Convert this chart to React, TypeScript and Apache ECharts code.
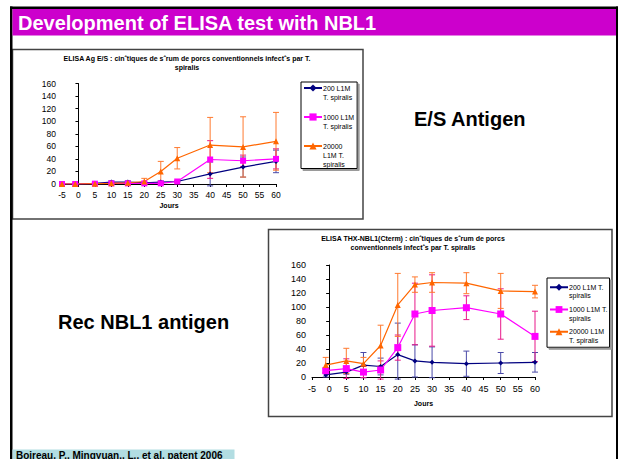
import React, { useEffect, useRef } from "react";
import * as echarts from "echarts";

// ---------- data ----------
const dayTicks = [-5, 0, 5, 10, 15, 20, 25, 30, 35, 40, 45, 50, 55, 60];
const yTicks = [0, 20, 40, 60, 80, 100, 120, 140, 160];

const seriesNames = ["200 L1M T. spiralis", "1000 L1M T. spiralis", "20000 L1M T. spiralis"];

// Chart 1: E/S antigen
const days1 = [-5, -1, 5, 10, 15, 20, 25, 30, 40, 50, 60];
const es200 = [0, 0, 1, 3, 3, 2, 3, 4, 16, 27, 36];
const es200Err = [1, 1, 1, 2, 2, 1, 2, 1, 19, 16, 18];
const es1000 = [0, 0, 0.5, 1, 1, 1, 1, 4, 39, 37, 40];
const es1000Err = [1, 1, 1, 1, 1, 1, 1, 1, 30, 9, 16];
const es20000 = [0, 0, 0.5, 1, 2, 4, 20, 41, 62, 59, 68];
const es20000Err = [1, 1, 1, 1, 1, 5, 16, 17, 44, 48, 46];

// Chart 2: recombinant NBL1
const days2 = [-1, 5, 10, 15, 20, 25, 30, 40, 50, 60];
const nbl200 = [3, 7, 17, 15, 32, 23, 21, 19, 20, 21];
const nbl200Err = [3, 3, 18, 12, 45, 23, 22, 18, 15, 14];
const nbl1000 = [9, 12, 7, 10, 42, 90, 95, 99, 90, 58];
const nbl1000Err = [3, 14, 8, 13, 18, 44, 51, 17, 36, 36];
const nbl20000 = [17, 23, 19, 45, 103, 132, 135, 134, 123, 122];
const nbl20000Err = [11, 18, 9, 29, 45, 11, 14, 15, 25, 9];

const legend1Labels: Record<string, string> = {
  "200 L1M T. spiralis": "200 L1M\nT. spiralis",
  "1000 L1M T. spiralis": "1000 L1M\nT. spiralis",
  "20000 L1M T. spiralis": "20000\nL1M T.\nspiralis",
};
const legend2Labels: Record<string, string> = {
  "200 L1M T. spiralis": "200 L1M T.\nspiralis",
  "1000 L1M T. spiralis": "1000 L1M T.\nspiralis",
  "20000 L1M T. spiralis": "20000 L1M\nT. spiralis",
};

const title1 = "ELISA Ag E/S : cinˆtiques de sˆrum de porcs conventionnels infectˆs par T.\nspiralis";
const title2 = "ELISA THX-NBL1(Cterm) : cinˆtiques de sˆrum de porcs\nconventionnels infectˆs par T. spiralis";

// ---------- styling ----------
const FONT = "Arial, 'Liberation Sans', sans-serif";
const colors = ["#000080", "#FF00FF", "#FF6600"];
const errColors = ["#4a4aa8", "#e8198a", "#ff7a30"];
const symbols = ["diamond", "rect", "triangle"];

function lineSeries(i: number, xs: number[], ys: number[], axis: number, symSize: number[]) {
  return {
    type: "line",
    name: seriesNames[i],
    xAxisIndex: axis,
    yAxisIndex: axis,
    data: xs.map((x, k) => [x, ys[k]]),
    symbol: symbols[i],
    symbolSize: symSize[i],
    showAllSymbol: true,
    lineStyle: { color: colors[i], width: 1.2 },
    itemStyle: { color: colors[i] },
    z: 3,
  };
}

function errSeries(i: number, xs: number[], ys: number[], es: number[], axis: number) {
  const color = errColors[i];
  return {
    type: "custom",
    xAxisIndex: axis,
    yAxisIndex: axis,
    silent: true,
    z: 2,
    data: xs.map((x, k) => [x, ys[k] - es[k], ys[k] + es[k]]),
    encode: { x: 0, y: [1, 2] },
    renderItem: (_p: any, api: any) => {
      const x = api.value(0);
      const lo = api.coord([x, Math.max(api.value(1), -3)]);
      const hi = api.coord([x, api.value(2)]);
      const w = 3;
      const st = { stroke: color, lineWidth: 1 };
      return {
        type: "group",
        children: [
          { type: "line", shape: { x1: lo[0], y1: lo[1], x2: hi[0], y2: hi[1] }, style: st },
          { type: "line", shape: { x1: lo[0] - w, y1: lo[1], x2: lo[0] + w, y2: lo[1] }, style: st },
          { type: "line", shape: { x1: hi[0] - w, y1: hi[1], x2: hi[0] + w, y2: hi[1] }, style: st },
        ],
      };
    },
  };
}

function xAxisCfg(grid: number, fs: number, margin: number, nameGap: number) {
  return {
    type: "value",
    gridIndex: grid,
    min: dayTicks[0],
    max: dayTicks[dayTicks.length - 1],
    interval: 5,
    name: "Jours",
    nameLocation: "middle",
    nameGap,
    nameTextStyle: { fontSize: 7, fontWeight: "bold", fontFamily: FONT, color: "#000" },
    axisLine: { show: true, onZero: false, lineStyle: { color: "#000", width: 1 } },
    axisTick: { show: true, length: 3, lineStyle: { color: "#000" } },
    axisLabel: { fontSize: fs, fontFamily: FONT, color: "#000", margin },
    splitLine: { show: false },
  };
}

function yAxisCfg(grid: number, fs: number) {
  return {
    type: "value",
    gridIndex: grid,
    min: yTicks[0],
    max: yTicks[yTicks.length - 1],
    interval: 20,
    axisLine: { show: true, lineStyle: { color: "#000", width: 1 } },
    axisTick: { show: true, length: 3, lineStyle: { color: "#000" } },
    axisLabel: { fontSize: fs, fontFamily: FONT, color: "#000", margin: 6 },
    splitLine: { show: false },
  };
}

function legendCfg(
  labels: Record<string, string>,
  left: number,
  top: number,
  lh: number,
  gap: number,
  padding: number[]
) {
  return {
    orient: "vertical",
    left,
    top,
    padding,
    itemGap: gap,
    itemWidth: 18,
    itemHeight: lh,
    backgroundColor: "#fff",
    borderColor: "#000",
    borderWidth: 1,
    shadowColor: "#9a9a9a",
    shadowOffsetX: 2,
    shadowOffsetY: 2,
    shadowBlur: 0,
    selectedMode: false,
    data: seriesNames.map((n) => {
      const lines = labels[n].split("\n").length;
      return { name: n, textStyle: { padding: [0, 0, -(lines - 1) * lh, -4] } };
    }),
    formatter: (n: string) => labels[n],
    textStyle: {
      fontSize: 7,
      lineHeight: lh,
      fontFamily: FONT,
      color: "#000",
      rich: { r: { fontSize: 7, lineHeight: lh, fontFamily: FONT, color: "#000" } },
    },
  };
}

export default function App() {
  const ref = useRef<HTMLDivElement>(null);
  useEffect(() => {
    if (!ref.current) return;
    const chart = echarts.init(ref.current, undefined, { renderer: "svg" });
    const option: any = {
      animation: false,
      backgroundColor: "#fff",
      textStyle: { fontFamily: FONT },
      grid: [
        { left: 62, top: 83.5, width: 214, height: 100.5, containLabel: false },
        { left: 312, top: 265, width: 223, height: 112, containLabel: false },
      ],
      xAxis: [xAxisCfg(0, 8.5, 6, 18), xAxisCfg(1, 9, 7, 23)],
      yAxis: [yAxisCfg(0, 8.5), yAxisCfg(1, 9)],
      legend: [
        legendCfg(legend1Labels, 301, 82, 9, 12, [1.5, 3, 1, 2]),
        legendCfg(legend2Labels, 547, 278, 8.5, 6, [5, 2, 3.5, 2]),
      ],
      series: [
        lineSeries(0, days1, es200, 0, [5, 6, 6]),
        lineSeries(1, days1, es1000, 0, [5, 6, 6]),
        lineSeries(2, days1, es20000, 0, [5, 6, 6]),
        lineSeries(0, days2, nbl200, 1, [5, 7, 6]),
        lineSeries(1, days2, nbl1000, 1, [5, 7, 6]),
        lineSeries(2, days2, nbl20000, 1, [5, 7, 6]),
        errSeries(0, days1, es200, es200Err, 0),
        errSeries(1, days1, es1000, es1000Err, 0),
        errSeries(2, days1, es20000, es20000Err, 0),
        errSeries(0, days2, nbl200, nbl200Err, 1),
        errSeries(1, days2, nbl1000, nbl1000Err, 1),
        errSeries(2, days2, nbl20000, nbl20000Err, 1),
      ],
      graphic: [
        // slide frame
        { type: "rect", shape: { x: 10, y: 6.5, width: 608, height: 2.5 }, style: { fill: "#000" }, silent: true },
        { type: "rect", shape: { x: 10, y: 6.5, width: 2.5, height: 460 }, style: { fill: "#000" }, silent: true },
        { type: "rect", shape: { x: 616, y: 6.5, width: 2, height: 460 }, style: { fill: "#000" }, silent: true },
        // title bar
        { type: "rect", shape: { x: 12.5, y: 9, width: 603.5, height: 26.5 }, style: { fill: "#CC00CC" }, silent: true },
        {
          type: "text",
          x: 18,
          y: 22.5,
          style: {
            text: "Development of ELISA test with NBL1",
            fill: "#fff",
            fontSize: 20,
            fontWeight: "bold",
            fontFamily: FONT,
            align: "left",
            verticalAlign: "middle",
          },
          silent: true,
        },
        // chart frames
        { type: "rect", shape: { x: 12.5, y: 49.5, width: 350.5, height: 169.5 }, style: { fill: "none", stroke: "#444", lineWidth: 1.5 }, silent: true, z: -1 },
        { type: "rect", shape: { x: 268.5, y: 229.5, width: 343.5, height: 187 }, style: { fill: "none", stroke: "#444", lineWidth: 1.5 }, silent: true, z: -1 },
        // chart titles
        {
          type: "text",
          x: 187,
          y: 63,
          style: { text: title1, fill: "#000", fontSize: 7, fontWeight: "bold", fontFamily: FONT, lineHeight: 8.5, align: "center", verticalAlign: "middle" },
          silent: true,
        },
        {
          type: "text",
          x: 413,
          y: 243,
          style: { text: title2, fill: "#000", fontSize: 7, fontWeight: "bold", fontFamily: FONT, lineHeight: 8.5, align: "center", verticalAlign: "middle" },
          silent: true,
        },
        // side labels
        {
          type: "text",
          x: 414,
          y: 119,
          style: { text: "E/S Antigen", fill: "#000", fontSize: 20, fontWeight: "bold", fontFamily: FONT, align: "left", verticalAlign: "middle" },
          silent: true,
        },
        {
          type: "text",
          x: 58,
          y: 322,
          style: { text: "Rec NBL1 antigen", fill: "#000", fontSize: 20, fontWeight: "bold", fontFamily: FONT, align: "left", verticalAlign: "middle" },
          silent: true,
        },
        // footnote
        { type: "rect", shape: { x: 12.5, y: 449.5, width: 222, height: 10 }, style: { fill: "#B2DDE2" }, silent: true },
        {
          type: "text",
          x: 16,
          y: 455,
          style: { text: "Boireau, P., Mingyuan., L., et al. patent 2006", fill: "#000", fontSize: 10, fontWeight: "bold", fontFamily: FONT, align: "left", verticalAlign: "middle" },
          silent: true,
        },
      ],
    };
    chart.setOption(option);
    return () => chart.dispose();
  }, []);
  return (
    <div
      ref={ref}
      style={{ position: "fixed", left: 0, top: 0, width: 620, height: 459 }}
    />
  );
}
